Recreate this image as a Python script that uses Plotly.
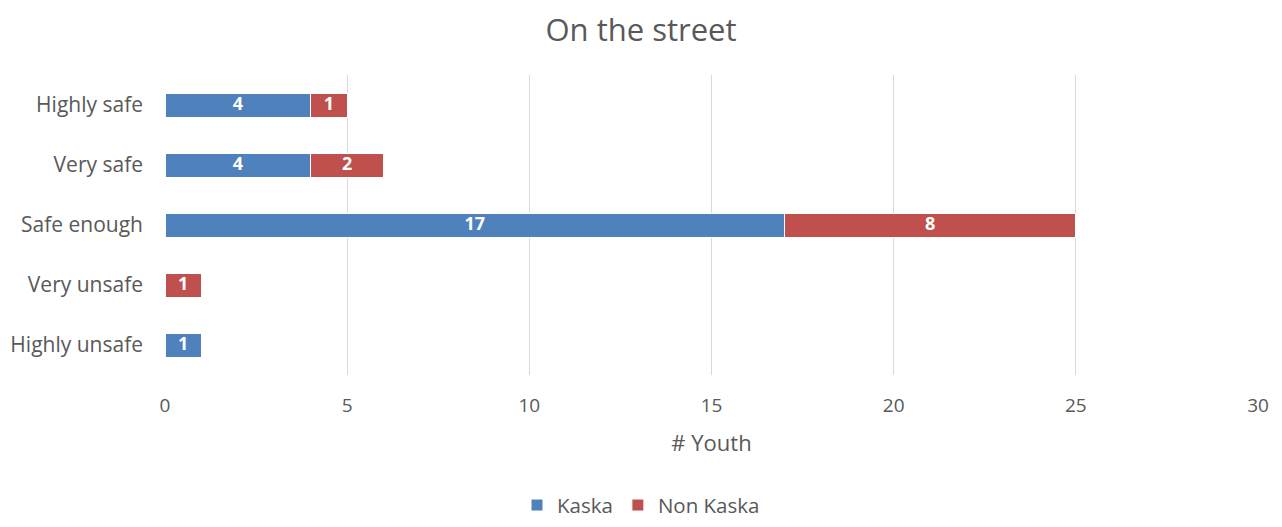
import plotly.graph_objects as go

categories = ["Highly unsafe", "Very unsafe", "Safe enough", "Very safe", "Highly safe"]
kaska = [1, 0, 17, 4, 4]
non_kaska = [0, 1, 8, 2, 1]

FONT = "Open Sans"
GREY = "#595959"

fig = go.Figure()
fig.add_trace(go.Bar(
    y=categories, x=kaska, name="Kaska", orientation="h",
    marker=dict(color="#4F81BD", line=dict(color="white", width=1)),
))
fig.add_trace(go.Bar(
    y=categories, x=non_kaska, name="Non Kaska", orientation="h",
    marker=dict(color="#C0504D", line=dict(color="white", width=1)),
))

# data labels as text marks in the middle of each segment (bars too thin for inside text)
mids = [k / 2 for k in kaska] + [k + n / 2 for k, n in zip(kaska, non_kaska)]
texts = ["<b>%d</b>" % v if v else "" for v in kaska + non_kaska]
fig.add_trace(go.Scatter(
    x=mids, y=categories + categories, mode="text", text=texts,
    textfont=dict(color="white", size=18, family=FONT),
    showlegend=False, hoverinfo="skip",
))

# page body has an 8px margin, so the figure is sized to fit inside it
fig.update_layout(
    barmode="stack",
    bargap=0.6,
    width=1266, height=511,
    margin=dict(l=157, r=16, t=67, b=144),
    plot_bgcolor="white", paper_bgcolor="white",
    font=dict(family=FONT, size=19, color=GREY),
    title=dict(text="On the street", x=0.5, xanchor="center",
               yref="container", y=0.957, yanchor="middle",
               font=dict(size=31, color=GREY, family=FONT)),
    xaxis=dict(range=[0, 30], dtick=5, showgrid=True, gridcolor="#D9D9D9",
               zeroline=False, showline=False, ticks="", automargin=False,
               ticklabelstandoff=17, ticklabeloverflow="allow",
               title=dict(text="# Youth", font=dict(size=22, color=GREY), standoff=18)),
    yaxis=dict(showgrid=False, zeroline=False, showline=False, ticks="", automargin=False,
               ticklabelstandoff=21, tickfont=dict(size=21)),
    legend=dict(orientation="h", traceorder="normal",
                xref="container", x=0.5, xanchor="center",
                yref="container", y=0.027, yanchor="middle",
                font=dict(size=20.5, color=GREY)),
)

fig.write_html("out.html")
